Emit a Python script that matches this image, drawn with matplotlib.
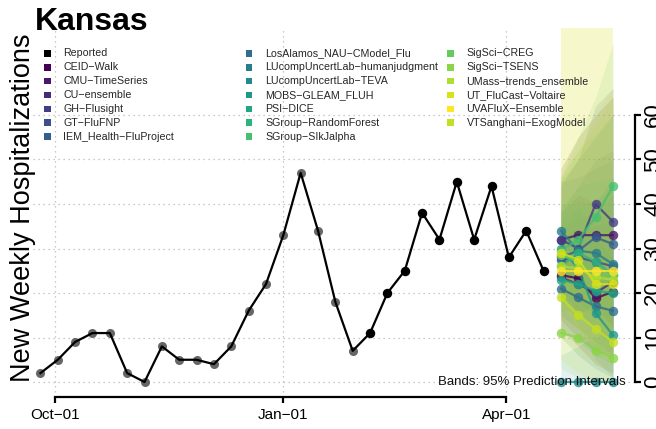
import numpy as np
import pandas as pd
import matplotlib
matplotlib.use("Agg")
import matplotlib.pyplot as plt
import matplotlib.dates as mdates
from matplotlib.patches import Rectangle

plt.rcParams['font.family'] = ['Liberation Sans', 'DejaVu Sans']

# ---------------------------------------------------------------------------
# Data
# ---------------------------------------------------------------------------
state = "Kansas"

reported_dates = pd.date_range("2022-09-25", periods=30, freq="7D")
reported = [2, 5, 9, 11, 11, 2, 0, 8, 5, 5, 4, 8, 16, 22, 33, 47, 34, 18, 7,
            11, 20, 25, 38, 32, 45, 32, 44, 28, 34, 25]
n_old = 19  # points drawn in grey (older data)

forecast_dates = pd.date_range("2023-04-23", periods=4, freq="7D")

models = ["CEID-Walk", "CMU-TimeSeries", "CU-ensemble", "GH-Flusight", "GT-FluFNP",
          "IEM_Health-FluProject", "LosAlamos_NAU-CModel_Flu",
          "LUcompUncertLab-humanjudgment", "LUcompUncertLab-TEVA", "MOBS-GLEAM_FLUH",
          "PSI-DICE", "SGroup-RandomForest", "SGroup-SIkJalpha", "SigSci-CREG",
          "SigSci-TSENS", "UMass-trends_ensemble", "UT_FluCast-Voltaire",
          "UVAFluX-Ensemble", "VTSanghani-ExogModel"]

median = [
    [24, 23.3, 18.8, 20.3],
    [32, 33, 33, 33],
    [23.5, 22, 20, 22.5],
    [32, 30, 40, 36],
    [27.5, 28, 27, 26],
    [28, 29.5, 32.5, 31],
    [21, 19, 17, 16],
    [34, 29.5, 29, 26.5],
    [0, 0, 0, 0],
    [30, 25.5, 15.5, 10.5],
    [23, 22, 20.5, 20],
    [26, 29, 27, 24],
    [29.5, 32, 37, 44],
    [28.5, 27, 24, 24],
    [11, 10, 7, 5.5],
    [26, 25.5, 23.5, 23],
    [29, 27.5, 22, 22],
    [25, 25, 25, 25],
    [19, 15, 12, 9],
]
lower = [
    [12, 8, 4, 2],
    [20, 16, 12, 9],
    [14, 10, 7, 6],
    [20, 15, 18, 12],
    [15, 12, 9, 6],
    [18, 16, 16, 13],
    [10, 6, 3, 1],
    [24, 18, 15, 11],
    [0, 0, 0, 0],
    [20, 13, 5, 1],
    [12, 9, 6, 4],
    [16, 16, 12, 8],
    [20, 18, 20, 22],
    [16, 12, 8, 6],
    [3, 1, 0, 0],
    [14, 11, 7, 4],
    [17, 12, 7, 4],
    [10, 7, 4, 2],
    [5, 2, 0, 0],
]
upper = [
    [38, 42, 40, 46],
    [48, 55, 60, 64],
    [34, 37, 38, 42],
    [45, 50, 62, 66],
    [44, 50, 55, 60],
    [39, 44, 50, 52],
    [33, 34, 35, 36],
    [45, 46, 48, 50],
    [6, 8, 10, 12],
    [40, 40, 32, 28],
    [36, 39, 41, 43],
    [38, 44, 45, 46],
    [46, 55, 64, 76],
    [46, 52, 56, 60],
    [22, 24, 24, 25],
    [46, 52, 58, 64],
    [48, 55, 60, 66],
    [82, 90, 100, 110],
    [80, 90, 100, 110],
]

xtick_dates = pd.to_datetime(["2022-10-01", "2023-01-01", "2023-04-01"])
xtick_labels = ["Oct\u221201", "Jan\u221201", "Apr\u221201"]
ytick_values = [0, 10, 20, 30, 40, 50, 60]

# ---------------------------------------------------------------------------
# Colours: viridis over the first 18 models, VT sits between UMass and UT
# ---------------------------------------------------------------------------
color_pos = list(np.arange(18) / 17) + [0.91]
colors = [plt.cm.viridis(p) for p in color_pos]

# ---------------------------------------------------------------------------
# Plot
# ---------------------------------------------------------------------------
fig = plt.figure(figsize=(6.56, 4.29), dpi=100)
ax = fig.add_axes([33 / 656, 32 / 429, 602 / 656, 369 / 429])

oct1 = mdates.date2num(xtick_dates[0])
apr1 = mdates.date2num(xtick_dates[2])
ax.set_xlim(oct1 - 9.0, apr1 + 51.9)
ax.set_ylim(-3.37, 79.55)

# grid
grid_kw = dict(color="#b8b8b8", lw=0.9, ls=(0, (1, 3)), zorder=0)
for v in ytick_values:
    ax.axhline(v, **grid_kw)
for d in xtick_dates:
    ax.axvline(d, **grid_kw)

# prediction bands
for i in range(len(models)):
    ax.fill_between(forecast_dates, lower[i], upper[i], color=colors[i],
                    alpha=0.12, lw=0, zorder=1)

# reported data
ax.plot(reported_dates, reported, color="black", lw=1.6, zorder=3)
ax.plot(reported_dates[:n_old], reported[:n_old], "o", color="#555555",
        ms=6.5, mec="none", alpha=0.9, zorder=2)
ax.plot(reported_dates[n_old:], reported[n_old:], "o", color="black",
        ms=6.8, mec="none", zorder=4)

# forecast medians
for i in range(len(models)):
    ax.plot(forecast_dates, median[i], "-o", color=colors[i], lw=1.6,
            ms=6.8, mec="none", alpha=0.8, zorder=5)

ax.text(0.985, (0 + 3.37) / (79.55 + 3.37), "Bands: 95% Prediction Intervals",
        transform=ax.transAxes, ha="right", va="center", fontsize=9.5,
        color="#111111", zorder=6)

# axes styling
for s in ["top", "left"]:
    ax.spines[s].set_visible(False)
ax.spines["bottom"].set_bounds(oct1, apr1)
ax.spines["right"].set_bounds(0, 60)
ax.spines["bottom"].set_linewidth(1.6)
ax.spines["right"].set_linewidth(1.6)

ax.set_xticks(xtick_dates)
ax.set_xticklabels(xtick_labels)
ax.tick_params(axis="x", length=4, width=1.6, labelsize=11, pad=4)

ax.yaxis.tick_right()
ax.set_yticks(ytick_values)
ax.set_yticklabels([str(v) for v in ytick_values])
ax.tick_params(axis="y", length=4, width=1.6, labelsize=16, pad=2,
               labelrotation=90)
for lab in ax.get_yticklabels():
    lab.set_va("center")

# title and y label
fig.text(35 / 656, 1 - 30 / 429, state, fontsize=23, fontweight="bold",
         va="baseline", ha="left")
fig.text(23 / 656, 1 - 208 / 429, "New Weekly Hospitalizations", rotation=90,
         fontsize=19.5, va="center", ha="center")

# legend (3 columns filled by column, like base R)
labels = ["Reported"] + [m.replace("-", "\u2212") for m in models]
leg_colors = ["black"] + colors
nrow = 7
for k, (lab, col) in enumerate(zip(labels, leg_colors)):
    c, r = divmod(k, nrow)
    x0 = 44 + 201.5 * c
    y0 = 53.5 + 13.85 * r
    fig.patches.append(Rectangle((x0 / 656, 1 - (y0 + 3.2) / 429), 6.5 / 656,
                                 6.5 / 429, transform=fig.transFigure,
                                 color=col, lw=0))
    fig.text((x0 + 19.5) / 656, 1 - y0 / 429, lab, fontsize=7.7,
             va="center", ha="left", color="#262626")

fig.savefig("out.png", dpi=100)
